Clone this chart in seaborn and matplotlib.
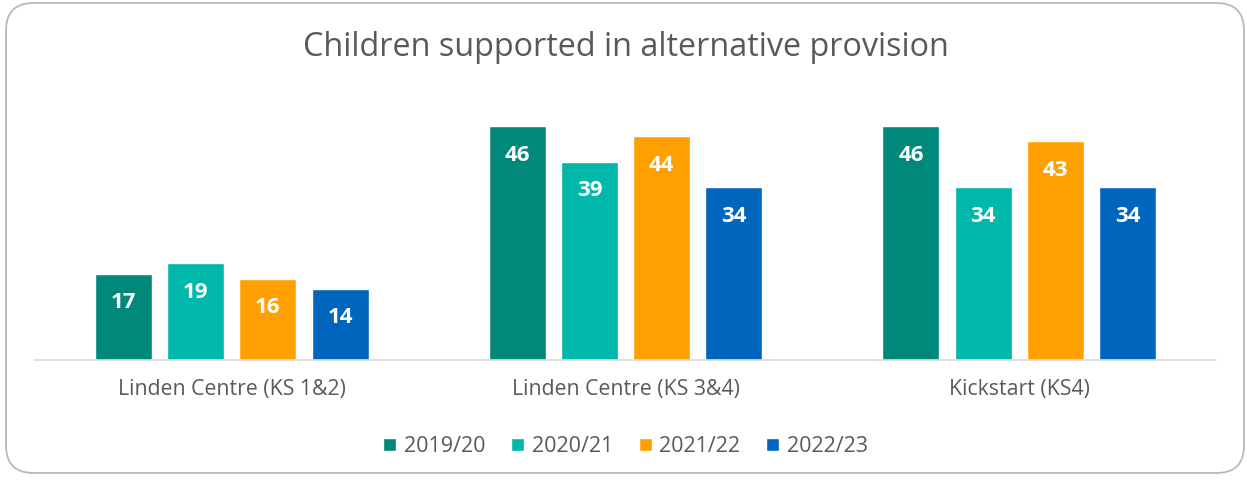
import numpy as np
import pandas as pd
import matplotlib.pyplot as plt
import seaborn as sns
from matplotlib.patches import FancyBboxPatch

categories = ["Linden Centre (KS 1&2)", "Linden Centre (KS 3&4)", "Kickstart (KS4)"]
years = ["2019/20", "2020/21", "2021/22", "2022/23"]
v_2019 = [17, 46, 46]
v_2020 = [19, 39, 34]
v_2021 = [16, 44, 43]
v_2022 = [14, 34, 34]
colors = ["#00897B", "#00B8A9", "#FFA000", "#0065BD"]

rows = []
for yr, vals in zip(years, [v_2019, v_2020, v_2021, v_2022]):
    for cat, v in zip(categories, vals):
        rows.append({"site": cat, "year": yr, "children": v})
df = pd.DataFrame(rows)

sns.set_style("white")
plt.rcParams["font.family"] = ["Open Sans", "DejaVu Sans"]
grey = "#595959"

fig = plt.figure(figsize=(12.47, 4.8), dpi=100)
ax = fig.add_axes([35 / 1247, 120 / 480, 1181 / 1247, 254.4 / 480])

sns.barplot(data=df, x="site", y="children", hue="year", order=categories,
            hue_order=years, palette=colors, width=0.733, gap=0.21,
            saturation=1, legend=True, ax=ax)

for c in ax.containers:
    for p in c:
        h = p.get_height()
        ax.annotate(f"{h:.0f}", (p.get_x() + p.get_width() / 2, h),
                    xytext=(0, -21), textcoords="offset points",
                    ha="center", va="center", color="white",
                    fontsize=16, fontweight="bold")

ax.set_xlim(-0.5, 2.5)
ax.set_ylim(0, 50)
ax.set_xlabel("")
ax.set_ylabel("")
ax.set_yticks([])
for s in ["top", "right", "left"]:
    ax.spines[s].set_visible(False)
ax.spines["bottom"].set_color("#D9D9D9")
ax.spines["bottom"].set_linewidth(1.2)
ax.tick_params(axis="x", length=0, pad=14, labelsize=15.3, labelcolor=grey)

leg = ax.legend(loc="center", bbox_to_anchor=(0.5, -0.34), ncol=4, frameon=False,
                fontsize=15.5, handlelength=0.6, handleheight=0.6, handletextpad=0.35,
                columnspacing=1.2, labelcolor=grey)

fig.text(0.502, 0.9, "Children supported in alternative provision",
         ha="center", va="center", fontsize=23.3, color=grey)

border = FancyBboxPatch((6 / 1247, 7 / 480), 1238 / 1247, 470 / 480,
                        boxstyle="round,pad=0,rounding_size=0.022",
                        transform=fig.transFigure, facecolor="none",
                        edgecolor="#BDB8B2", linewidth=1.3, mutation_aspect=1247 / 480)
fig.patches.append(border)

fig.savefig("out.png", dpi=100)
